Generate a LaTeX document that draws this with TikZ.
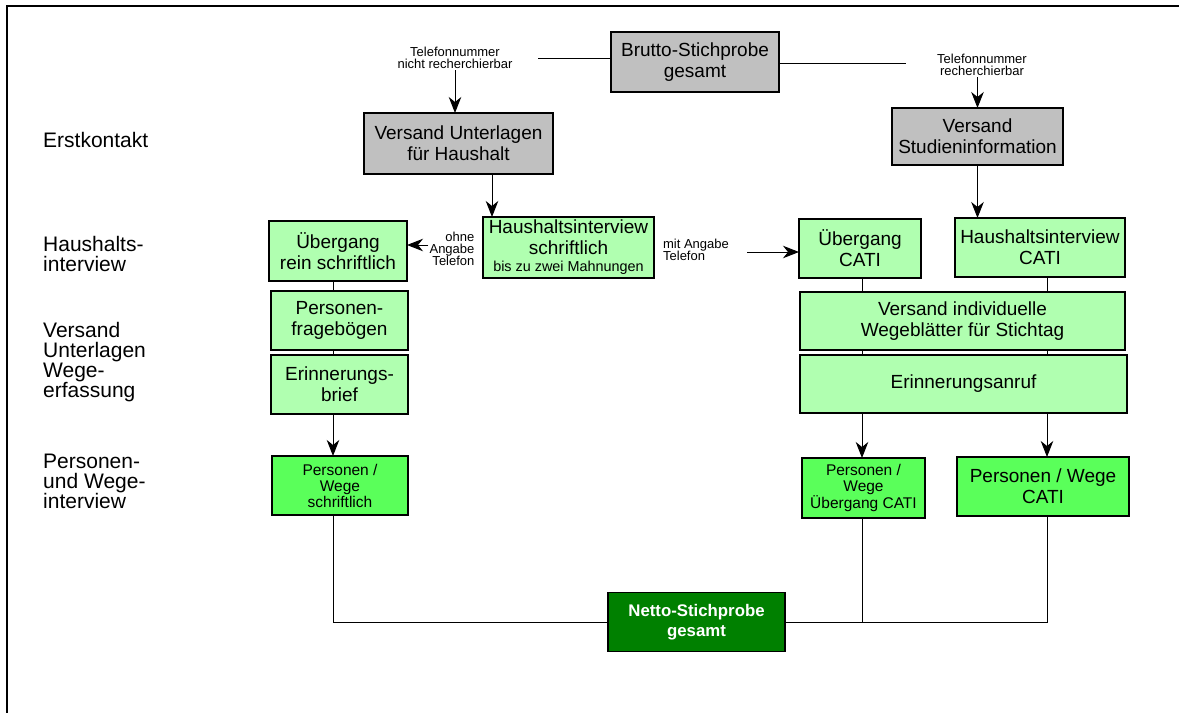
\documentclass[tikz,border=0pt]{standalone}
\usepackage{fontspec}
\setmainfont{Liberation Sans}
\usetikzlibrary{arrows.meta}
\definecolor{boxgray}{RGB}{192,192,192}
\definecolor{lgreen}{RGB}{176,255,176}
\definecolor{mgreen}{RGB}{90,255,90}
\definecolor{dgreen}{RGB}{0,128,0}
\tikzset{
  box/.style={draw=black, line width=1.2pt, inner sep=0pt, outer sep=0pt, align=center,
    font=\fontsize{19}{21}\selectfont},
  graybox/.style={box, fill=boxgray},
  lbox/.style={box, fill=lgreen},
  mbox/.style={box, fill=mgreen},
  dbox/.style={box, fill=dgreen, text=white, font=\fontsize{16.8}{20}\selectfont\bfseries},
  sidelab/.style={anchor=west, align=left, inner sep=0pt, font=\fontsize{21}{20}\selectfont},
  smlab/.style={align=center, inner sep=1pt, font=\fontsize{13}{12.3}\selectfont},
  conn/.style={line width=1pt},
  arr/.style={conn, -{Stealth[length=16pt,width=12.5pt,inset=5pt]}},
  frameline/.style={line width=2pt}
}
\begin{document}
\begin{tikzpicture}[x=1pt,y=-1pt]
\useasboundingbox (0,0) rectangle (1179,713);
\draw[frameline] (1179,6) -- (7,6) -- (7,713);

% side labels
\node[sidelab] (l1) at (43,140) {Erstkontakt};
\node[sidelab] (l2) at (43,254) {Haushalts-\\interview};
\node[sidelab] (l3) at (43,362) {Versand\\Unterlagen\\Wege-\\erfassung};
\node[sidelab] (l4) at (43,481) {Personen-\\und Wege-\\interview};

% boxes
\node[graybox, minimum width=168pt, minimum height=60pt] (brutto) at (695,62) {Brutto-Stichprobe\\gesamt};
\node[graybox, minimum width=189pt, minimum height=61pt] (vuh) at (458.5,143.5) {Versand Unterlagen\\für Haushalt};
\node[graybox, minimum width=171pt, minimum height=57pt] (vsi) at (977.5,136.5) {Versand\\Studieninformation};

\node[lbox, minimum width=171pt, minimum height=61pt] (his) at (568.5,247.5) {Haushaltsinterview\\schriftlich\\[-4pt]{\fontsize{14.4}{15}\selectfont bis zu zwei Mahnungen}};
\node[lbox, minimum width=138pt, minimum height=60pt] (urs) at (338,251) {Übergang\\rein schriftlich};
\node[lbox, minimum width=122pt, minimum height=59pt] (uc) at (860,248.5) {Übergang\\CATI};
\node[lbox, minimum width=170pt, minimum height=59pt] (hic) at (1040,247.5) {Haushaltsinterview\\CATI};

\node[lbox, minimum width=325pt, minimum height=58pt] (vw) at (962.5,321) {Versand individuelle\\Wegeblätter für Stichtag};
\node[lbox, minimum width=327pt, minimum height=58pt] (ea) at (963.5,384) {Erinnerungsanruf};
\node[lbox, minimum width=137pt, minimum height=59pt] (pf) at (339.5,320.5) {Personen-\\fragebögen};
\node[lbox, minimum width=137pt, minimum height=59pt] (eb) at (339.5,384.5) {Erinnerungs-\\brief};

\node[mbox, minimum width=136pt, minimum height=59pt, font=\fontsize{15.5}{16}\selectfont] (pws) at (340,485.5) {Personen /\\Wege\\schriftlich};
\node[mbox, minimum width=123pt, minimum height=60pt, font=\fontsize{15.5}{16}\selectfont] (pwu) at (863.5,488) {Personen /\\Wege\\Übergang CATI};
\node[mbox, minimum width=172pt, minimum height=59pt] (pwc) at (1043,486.5) {Personen / Wege\\CATI};

\node[dbox, minimum width=177pt, minimum height=59pt] (netto) at (696.5,622) {Netto-Stichprobe\\gesamt};

% small labels
\node[smlab] (tn1) at (455,58) {Telefonnummer\\nicht recherchierbar};
\node[smlab] (tn2) at (982,65) {Telefonnummer\\recherchierbar};
\node[smlab, align=right, fill=white] (ohne) at (452,249) {ohne\\Angabe\\Telefon};
\node[smlab, align=left] (mit) at (696,250) {mit Angabe\\Telefon};

\coordinate (tn1e) at ([xshift=24pt]tn1.east);
\coordinate (tn2w) at ([xshift=-30pt]tn2.west);
\coordinate (be) at ([yshift=-1pt]brutto.east);
\coordinate (hisin) at ([xshift=9pt]his.north west);
\coordinate (mitout) at ([xshift=17pt,yshift=-2pt]mit.east);
\coordinate (ohnew) at ([yshift=4pt]ohne.west);
\coordinate (colL) at ([xshift=-5pt]urs.south);
\coordinate (colA) at ([xshift=2pt]uc.south);
\coordinate (colB) at ([xshift=7pt]hic.south);

% connectors top
\draw[conn] (brutto.west |- tn1e) -- (tn1e);
\draw[conn] (be) -- (tn2w |- be);
\draw[arr] (tn1.south) -- (tn1.south |- vuh.north);
\draw[arr] (vsi.north |- tn2.south) -- (vsi.north);
\draw[arr] (hisin |- vuh.south) -- (hisin);
\draw[arr] (vsi.south) -- (vsi.south |- hic.north);
\draw[arr] (ohnew) -- (ohnew -| urs.east);
\draw[arr] (mitout) -- (mitout -| uc.west);

% left column
\draw[conn] (colL) -- (colL |- pf.north);
\draw[conn] (colL |- pf.south) -- (colL |- eb.north);
\draw[arr] (colL |- eb.south) -- (colL |- pws.north);

% right column
\draw[conn] (colA) -- (colA |- vw.north);
\draw[conn] (colB) -- (colB |- vw.north);
\draw[conn] (colA |- vw.south) -- (colA |- ea.north);
\draw[conn] (colB |- vw.south) -- (colB |- ea.north);
\draw[arr] (colA |- ea.south) -- (colA |- pwu.north);
\draw[arr] (colB |- ea.south) -- (colB |- pwc.north);

% bottom
\draw[conn] (colL |- pws.south) |- (netto.west);
\draw[conn] (netto.east) -| (colB |- pwc.south);
\draw[conn] (colA |- pwu.south) -- (colA |- netto.east);
\end{tikzpicture}
\end{document}
